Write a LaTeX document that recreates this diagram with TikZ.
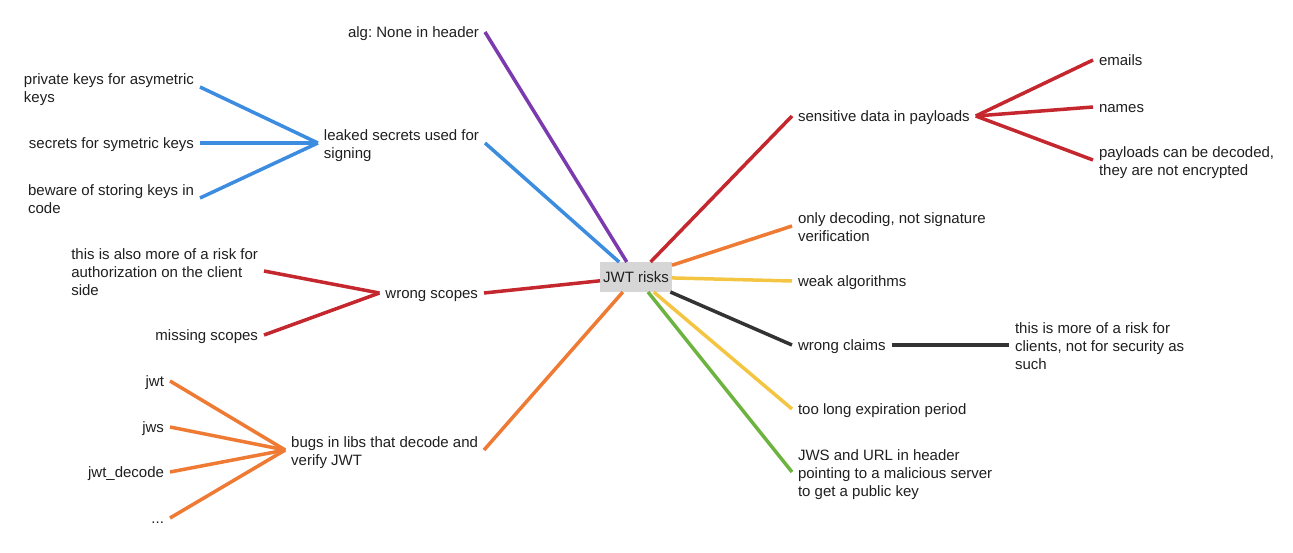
\documentclass[tikz,border=0pt]{standalone}
\usepackage{fontspec}
\setmainfont{Liberation Sans}
\usetikzlibrary{positioning}

\definecolor{riskpurple}{HTML}{7B3BAF}
\definecolor{riskblue}{HTML}{3C8CDF}
\definecolor{riskred}{HTML}{C4272E}
\definecolor{riskorange}{HTML}{EE7A33}
\definecolor{riskyellow}{HTML}{F4C542}
\definecolor{riskgreen}{HTML}{6DB33F}
\definecolor{riskdark}{HTML}{333333}
\definecolor{rootgrey}{HTML}{D6D6D6}

% riga alta per i testi su piu righe
\newcommand{\tallfirst}{\rule{0pt}{17pt}}

\begin{document}
\begin{tikzpicture}[x=1pt,y=-1pt,
    every node/.style={font=\fontsize{15}{18}\selectfont\frenchspacing, text=black!88, inner sep=0pt, outer sep=6pt, align=left,
      execute at begin node={\rule{0pt}{15pt}}, execute at end node={\rule[-3.2pt]{0pt}{3.2pt}}},
    branch/.style={line width=3.5pt}]
            \useasboundingbox (0,0) rectangle (1293,552);

            % Nodo centrale
            \node[fill=rootgrey, minimum width=72pt, minimum height=30pt, outer sep=0pt] (risks) at (636,277) {JWT risks};

            % Rami a sinistra
            \node[anchor=east] (alg) at (485,32) {alg: None in header};
            \node[anchor=east] (leaked) at (485,143) {\tallfirst leaked secrets used for\\signing};
            \node[anchor=east] (scopes) at (484,293) {wrong scopes};
            \node[anchor=east] (bugs) at (484,450) {\tallfirst bugs in libs that decode and\\verify JWT};

            % Rami a destra
            \node[anchor=west] (sensitive) at (792,116) {sensitive data in payloads};
            \node[anchor=west] (decoding) at (792,226) {\tallfirst only decoding, not signature\\verification};
            \node[anchor=west] (weak) at (792,281) {weak algorithms};
            \node[anchor=west] (claims) at (792,345) {wrong claims};
            \node[anchor=west] (expiry) at (792,409) {too long expiration period};
            \node[anchor=west] (jwsurl) at (792,472) {\tallfirst JWS and URL in header\\pointing to a malicious server\\to get a public key};

            % Foglie a sinistra
            \node[anchor=east] (privkeys) at (200,87) {\tallfirst private keys for asymetric\\keys};
            \node[anchor=east] (symkeys) at (200,143) {secrets for symetric keys};
            \node[anchor=east] (storing) at (200,198) {\tallfirst beware of storing keys in\\code};
            \node[anchor=east] (clientside) at (264,271) {\tallfirst this is also more of a risk for\\authorization on the client\\side};
            \node[anchor=east] (missing) at (264,335) {missing scopes};
            \node[anchor=east] (libjwt) at (170,381) {jwt};
            \node[anchor=east] (libjws) at (170,427) {jws};
            \node[anchor=east] (libdecode) at (170,472) {jwt\_decode};
            \node[anchor=east] (libmore) at (170,518) {...};

            % Foglie a destra
            \node[anchor=west] (emails) at (1093,60) {emails};
            \node[anchor=west] (names) at (1093,107) {names};
            \node[anchor=west] (decoded) at (1093,160) {\tallfirst payloads can be decoded,\\they are not encrypted};
            \node[anchor=west] (clients) at (1009,345) {\tallfirst this is more of a risk for\\clients, not for security as\\such};

            % Linee dal centro
            \draw[branch, riskpurple] (risks) -- (alg.east);
            \draw[branch, riskblue] (risks) -- (leaked.east);
            \draw[branch, riskred] (risks) -- (scopes.east);
            \draw[branch, riskorange] (risks) -- (bugs.east);
            \draw[branch, riskred] (risks) -- (sensitive.west);
            \draw[branch, riskorange] (risks) -- (decoding.west);
            \draw[branch, riskyellow] (risks) -- (weak.west);
            \draw[branch, riskdark] (risks) -- (claims.west);
            \draw[branch, riskyellow] (risks) -- (expiry.west);
            \draw[branch, riskgreen] (risks) -- (jwsurl.west);

            % Linee verso le foglie
            \foreach \leaf in {privkeys,symkeys,storing}
            \draw[branch, riskblue] (leaked.west) -- (\leaf.east);
            \foreach \leaf in {clientside,missing}
            \draw[branch, riskred] (scopes.west) -- (\leaf.east);
            \foreach \leaf in {libjwt,libjws,libdecode,libmore}
            \draw[branch, riskorange] (bugs.west) -- (\leaf.east);
            \foreach \leaf in {emails,names,decoded}
            \draw[branch, riskred] (sensitive.east) -- (\leaf.west);
            \draw[branch, riskdark] (claims.east) -- (clients.west);
        \end{tikzpicture}
\end{document}
